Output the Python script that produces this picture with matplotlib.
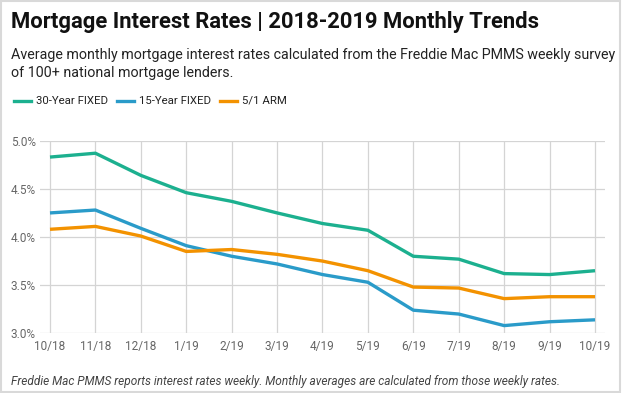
import matplotlib
matplotlib.use("Agg")
import matplotlib.pyplot as plt
from matplotlib.patches import Rectangle
from matplotlib.lines import Line2D

months = ["10/18", "11/18", "12/18", "1/19", "2/19", "3/19", "4/19",
          "5/19", "6/19", "7/19", "8/19", "9/19", "10/19"]
fixed30 = [4.83, 4.87, 4.64, 4.46, 4.37, 4.25, 4.14, 4.07, 3.80, 3.77, 3.62, 3.61, 3.65]
fixed15 = [4.25, 4.28, 4.09, 3.91, 3.80, 3.72, 3.61, 3.53, 3.24, 3.20, 3.08, 3.12, 3.14]
arm51 = [4.08, 4.11, 4.01, 3.85, 3.87, 3.82, 3.75, 3.65, 3.48, 3.47, 3.36, 3.38, 3.38]
series_names = ["30-Year FIXED", "15-Year FIXED", "5/1 ARM"]
yticks = [3.0, 3.5, 4.0, 4.5, 5.0]

colors = ["#1CB08F", "#2A9BC9", "#F39200"]

plt.rcParams['font.family'] = ['Roboto', 'DejaVu Sans']

W, H = 622, 393
fig = plt.figure(figsize=(W / 100, H / 100), dpi=100)
fig.patch.set_facecolor("white")

# border
fig.add_artist(Rectangle((1 / W, 1 / H), (W - 3) / W, (H - 2) / H,
                         transform=fig.transFigure, fill=False,
                         edgecolor="#d9d9d9", linewidth=1.5))

ax = fig.add_axes([40 / W, 1 - 333.3 / H, (605 - 40) / W, (333.3 - 140.7) / H])
x = list(range(len(months)))
for vals, c in zip([fixed30, fixed15, arm51], colors):
    ax.plot(x, vals, color=c, linewidth=2.4, solid_capstyle="butt", zorder=3)

ax.set_xlim(-0.22, len(months) - 1 + 0.22)
ax.set_ylim(3.0, 5.0)
ax.set_xticks(x)
ax.set_xticklabels(months)
ax.set_yticks(yticks)
ax.set_yticklabels([f"{v:.1f}%" for v in yticks])
for s in ax.spines.values():
    s.set_visible(False)
ax.grid(True, color="#d4d4d4", linewidth=0.9)
ax.set_axisbelow(True)
ax.tick_params(axis="both", length=0, labelsize=8.5, labelcolor="#666666")
ax.tick_params(axis="x", pad=5)
ax.tick_params(axis="y", pad=3)

fig.text(11 / W, 1 - 22 / H, "Mortgage Interest Rates | 2018-2019 Monthly Trends",
         fontsize=15.8, fontweight="bold", color="#111111", va="center", ha="left")
fig.text(11 / W, 1 - 55 / H,
         "Average monthly mortgage interest rates calculated from the Freddie Mac PMMS weekly survey",
         fontsize=10.3, color="#222222", va="center", ha="left")
fig.text(11 / W, 1 - 73 / H, "of 100+ national mortgage lenders.",
         fontsize=10.3, color="#222222", va="center", ha="left")

# legend
lx = 14
ly = 1 - 101 / H
for name, c in zip(series_names, colors):
    fig.add_artist(Line2D([lx / W, (lx + 17) / W], [ly, ly], transform=fig.transFigure,
                          color=c, linewidth=2.4))
    t = fig.text((lx + 22) / W, ly, name, fontsize=8.2, color="#222222",
                 va="center", ha="left")
    fig.canvas.draw()
    bb = t.get_window_extent()
    lx = bb.x1 + 9

fig.text(11 / W, 1 - 381 / H,
         "Freddie Mac PMMS reports interest rates weekly. Monthly averages are calculated from those weekly rates.",
         fontsize=8.6, style="italic", color="#444444", va="center", ha="left")

fig.savefig("out.png", dpi=100, facecolor="white")
